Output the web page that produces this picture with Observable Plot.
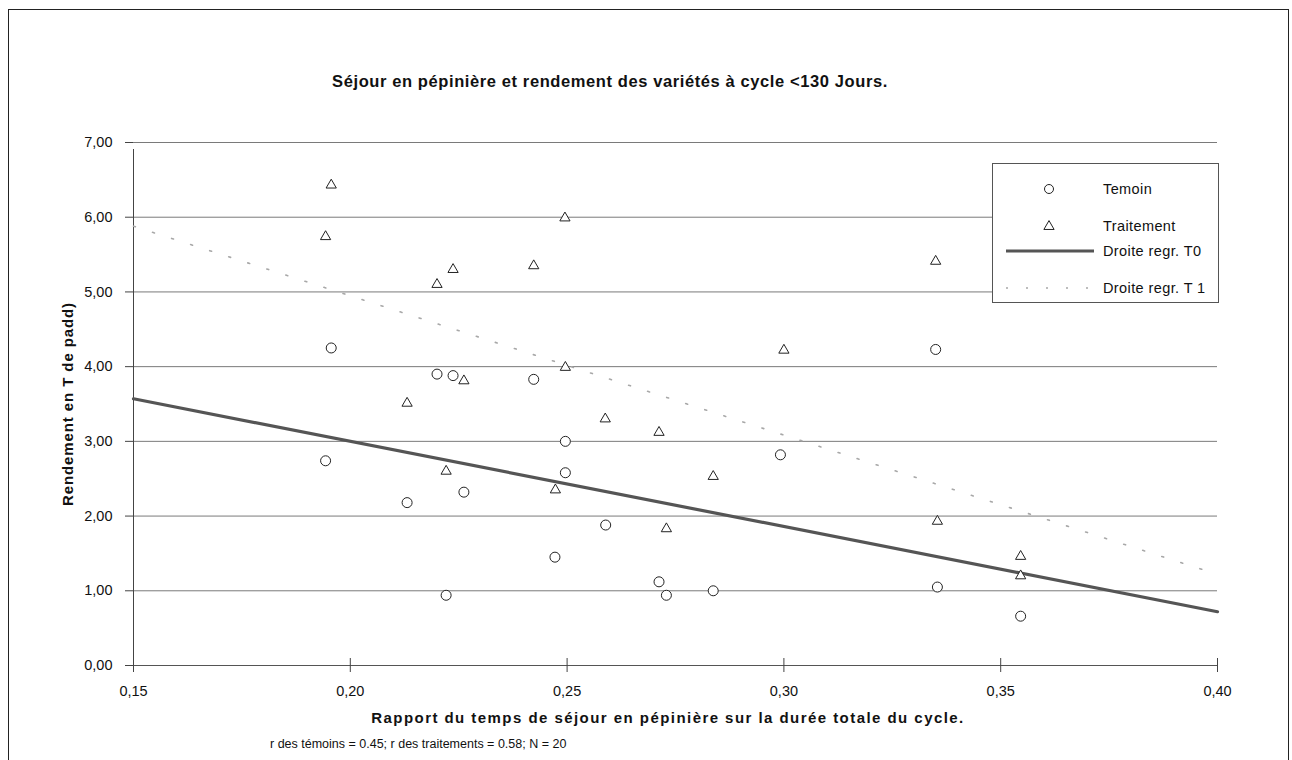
<!DOCTYPE html>
<html>
<head>
<meta charset="utf-8">
<script src="https://cdn.jsdelivr.net/npm/d3@7"></script>
<script src="https://cdn.jsdelivr.net/npm/@observablehq/plot@0.6"></script>
<style>
  body { margin: 0; background: #fff; font-family: "Liberation Sans", Arial, sans-serif; color: #111; }
  #fig { position: relative; width: 1292px; height: 760px; overflow: hidden; }
  #fig > svg { position: absolute; left: 0; top: 0; }
  .frame { position: absolute; left: 8px; top: 9px; width: 1281px; height: 780px; border: 1.5px solid #222; box-sizing: border-box; }
  .title { position: absolute; left: 0; width: 1220px; top: 72px; text-align: center; font-weight: bold; font-size: 16.5px; letter-spacing: 0.6px; }
  .xlabel { position: absolute; left: 0; width: 1336px; top: 709px; text-align: center; font-weight: bold; font-size: 15px; letter-spacing: 1.45px; }
  .ylabel { position: absolute; left: 67px; top: 404px; transform: translate(-50%, -50%) rotate(-90deg); white-space: nowrap; font-weight: bold; font-size: 15px; letter-spacing: 0.9px; }
  .caption { position: absolute; left: 270px; top: 737px; font-size: 12.5px; }
  .legend { position: absolute; left: 992px; top: 163px; width: 227px; height: 140px; background: #fff; border: 1px solid #555; box-sizing: border-box; font-size: 14.5px; letter-spacing: 0.4px; }
  .legend .row { position: absolute; left: 0; height: 20px; display: flex; align-items: center; }
  .legend span { position: absolute; left: 110px; white-space: nowrap; }
</style>
</head>
<body>
<div id="fig">
  <div class="frame"></div>
</div>
<script>
// Ratio of nursery stay to total cycle length, and yield (t of paddy)
const temoinX = [0.1943, 0.1956, 0.2131, 0.2200, 0.2221, 0.2237, 0.2262, 0.2423, 0.2472, 0.2496, 0.2496, 0.2589, 0.2712, 0.2729, 0.2837, 0.2992, 0.3350, 0.3354, 0.3546];
const temoinY = [2.74, 4.25, 2.18, 3.90, 0.94, 3.88, 2.32, 3.83, 1.45, 3.00, 2.58, 1.88, 1.12, 0.94, 1.00, 2.82, 4.23, 1.05, 0.66];

const traitX = [0.1943, 0.1956, 0.2131, 0.2200, 0.2221, 0.2237, 0.2262, 0.2423, 0.2473, 0.2495, 0.2496, 0.2588, 0.2712, 0.2729, 0.2837, 0.3000, 0.3350, 0.3354, 0.3546, 0.3546];
const traitY = [5.74, 6.43, 3.51, 5.10, 2.60, 5.30, 3.81, 5.35, 2.35, 5.99, 3.99, 3.30, 3.12, 1.83, 2.53, 4.22, 5.41, 1.93, 1.46, 1.20];

// Regression lines (end points over the x range)
const regT0X = [0.15, 0.40];
const regT0Y = [3.57, 0.72];
const regT1X = [0.15, 0.40];
const regT1Y = [5.88, 1.22];

const xTicks = [0.15, 0.20, 0.25, 0.30, 0.35, 0.40];
const yTicks = [0, 1, 2, 3, 4, 5, 6, 7];

const texts = {
  title: "Séjour en pépinière et rendement des variétés à cycle <130 Jours.",
  xlabel: "Rapport du temps de séjour en pépinière sur la durée totale du cycle.",
  ylabel: "Rendement en T de padd)",
  caption: "r des témoins = 0.45; r des traitements = 0.58; N = 20",
  legend: ["Temoin", "Traitement", "Droite regr. T0", "Droite regr. T 1"]
};

const temoin = temoinX.map((x, i) => ({x, y: temoinY[i]}));
const trait = traitX.map((x, i) => ({x, y: traitY[i]}));
const t0 = regT0X.map((x, i) => ({x, y: regT0Y[i]}));
const t1 = regT1X.map((x, i) => ({x, y: regT1Y[i]}));
const comma = d => d3.format(".2f")(d).replace(".", ",");

const lineGrey = "#555";
const dotStroke = "#222";
const t1Stroke = "#a8a8a8";
const axisInk = "#444";
const tickFont = 14.5;

const chart = Plot.plot({
  width: 1292,
  height: 760,
  marginLeft: 133,
  marginRight: 75,
  marginTop: 142,
  marginBottom: 95,
  style: {fontFamily: "'Liberation Sans', Arial, sans-serif", color: "#111", background: "transparent"},
  x: {domain: [0.15, 0.40], axis: null},
  y: {domain: [0, 7], axis: null},
  marks: [
    // horizontal grid
    Plot.ruleY(yTicks.filter(d => d > 0), {stroke: "#7a7a7a", strokeWidth: 1}),
    // axis lines
    Plot.ruleY([0], {stroke: "#555", strokeWidth: 1}),
    Plot.ruleX([0.15], {y1: 0, y2: 7, stroke: axisInk, strokeWidth: 1, insetBottom: -7}),
    // x ticks cross the axis line, y ticks point left
    Plot.ruleX(xTicks, {x: d => d, y1: 0, y2: 0, insetTop: -7, insetBottom: -7, stroke: axisInk, strokeWidth: 1}),
    Plot.ruleY(yTicks, {y: d => d, x1: 0.15, x2: 0.15, insetLeft: -8, stroke: axisInk, strokeWidth: 1}),
    // tick labels
    Plot.text(xTicks, {x: d => d, y: 0, text: comma, dy: 26, fontSize: tickFont, fill: "#111"}),
    Plot.text(yTicks, {x: 0.15, y: d => d, text: comma, dx: -21, textAnchor: "end", fontSize: tickFont, fill: "#111"}),
    // regression lines
    Plot.line(t1, {x: "x", y: "y", stroke: t1Stroke, strokeWidth: 1.6, strokeDasharray: "2 18"}),
    Plot.line(t0, {x: "x", y: "y", stroke: lineGrey, strokeWidth: 3.2}),
    // observations
    Plot.dot(temoin, {x: "x", y: "y", r: 5, symbol: "circle", stroke: dotStroke, fill: "white", strokeWidth: 1}),
    Plot.dot(trait, {x: "x", y: "y", r: 3.8, symbol: "triangle", stroke: dotStroke, fill: "white", strokeWidth: 1})
  ]
});

const fig = document.getElementById("fig");
fig.appendChild(chart);

function addDiv(cls, text) {
  const d = document.createElement("div");
  d.className = cls;
  d.textContent = text;
  fig.appendChild(d);
  return d;
}
addDiv("title", texts.title);
addDiv("xlabel", texts.xlabel);
addDiv("ylabel", texts.ylabel);
addDiv("caption", texts.caption);

// Legend box
const legend = document.createElement("div");
legend.className = "legend";
fig.appendChild(legend);
const ns = "http://www.w3.org/2000/svg";
const rowsTop = [15, 52, 77, 114];
const swatches = [
  g => { const c = document.createElementNS(ns, "circle"); c.setAttribute("cx", 56); c.setAttribute("cy", 10); c.setAttribute("r", 4.5); c.setAttribute("fill", "white"); c.setAttribute("stroke", dotStroke); g.appendChild(c); },
  g => { const p = document.createElementNS(ns, "path"); p.setAttribute("d", d3.symbol(d3.symbolTriangle, 3.8 * 3.8 * Math.PI)()); p.setAttribute("transform", "translate(56,10.5)"); p.setAttribute("fill", "white"); p.setAttribute("stroke", dotStroke); g.appendChild(p); },
  g => { const l = document.createElementNS(ns, "line"); l.setAttribute("x1", 13); l.setAttribute("x2", 101); l.setAttribute("y1", 10); l.setAttribute("y2", 10); l.setAttribute("stroke", lineGrey); l.setAttribute("stroke-width", 3.2); g.appendChild(l); },
  g => { const l = document.createElementNS(ns, "line"); l.setAttribute("x1", 13); l.setAttribute("x2", 101); l.setAttribute("y1", 10); l.setAttribute("y2", 10); l.setAttribute("stroke", t1Stroke); l.setAttribute("stroke-width", 1.6); l.setAttribute("stroke-dasharray", "2 18"); g.appendChild(l); }
];
texts.legend.forEach((label, i) => {
  const row = document.createElement("div");
  row.className = "row";
  row.style.top = rowsTop[i] + "px";
  row.style.width = "225px";
  const s = document.createElementNS(ns, "svg");
  s.setAttribute("width", 110);
  s.setAttribute("height", 20);
  swatches[i](s);
  row.appendChild(s);
  const t = document.createElement("span");
  t.textContent = label;
  row.appendChild(t);
  legend.appendChild(row);
});
</script>
</body>
</html>
